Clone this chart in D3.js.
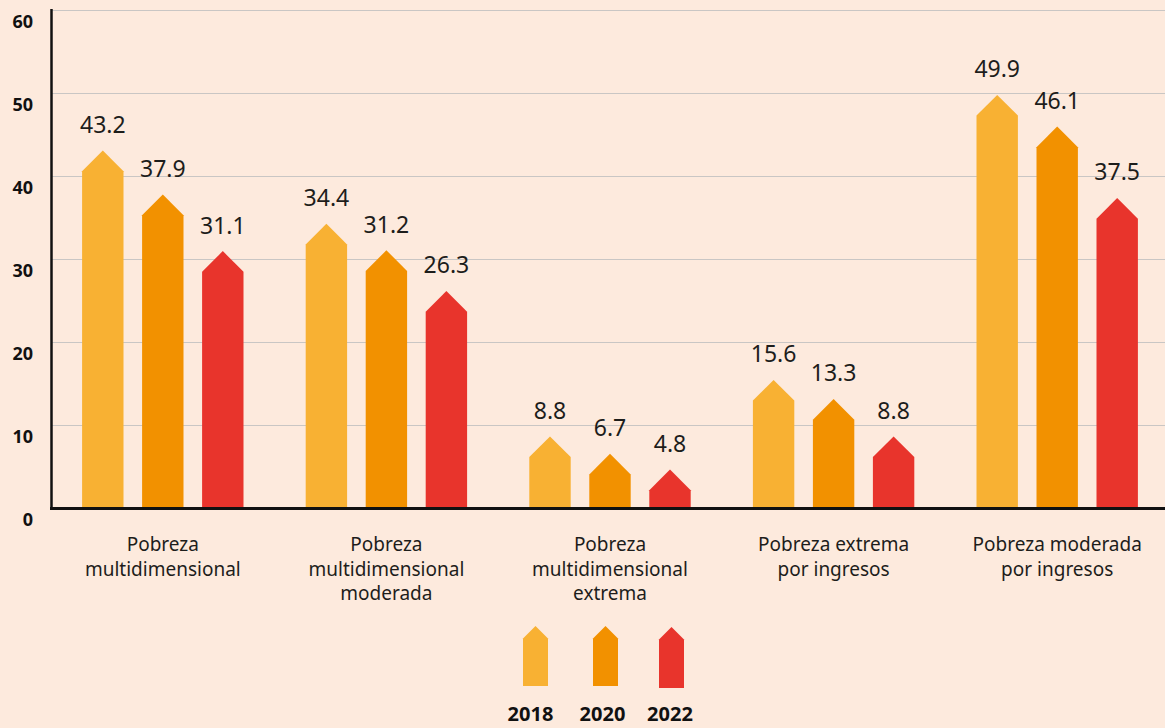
<!DOCTYPE html>
<html>
<head>
<meta charset="utf-8">
<script src="https://cdn.jsdelivr.net/npm/d3@7"></script>
<style>
  body { margin: 0; background: #fdeadd; }
  svg { display: block; font-family: "Noto Sans", sans-serif; }
</style>
</head>
<body>
<div id="chart"></div>
<script>
var width = 1165;
var height = 728;

var categories = [
    ["Pobreza", "multidimensional"],
    ["Pobreza", "multidimensional", "moderada"],
    ["Pobreza", "multidimensional", "extrema"],
    ["Pobreza extrema", "por ingresos"],
    ["Pobreza moderada", "por ingresos"]
];
var years = ["2018", "2020", "2022"];
var values2018 = [43.2, 34.4, 8.8, 15.6, 49.9];
var values2020 = [37.9, 31.2, 6.7, 13.3, 46.1];
var values2022 = [31.1, 26.3, 4.8, 8.8, 37.5];
var yTicks = [0, 10, 20, 30, 40, 50, 60];
var colors = ["#f8b133", "#f29100", "#e8342c"];

var series = [values2018, values2020, values2022];

var svg = d3.select("#chart")
    .append("svg")
    .attr("width", width)
    .attr("height", height);

svg.append("rect")
    .attr("width", width)
    .attr("height", height)
    .attr("fill", "#fdeadd");

var y = d3.scaleLinear().domain([0, 60]).range([508, 9.5]);

var x0 = d3.scaleBand()
    .domain(d3.range(categories.length))
    .range([51, 1169]);

var x1 = d3.scaleBand()
    .domain(years)
    .range([-90, 90])
    .paddingInner(0.31)
    .paddingOuter(0.155);

// gridlines
svg.append("g")
    .selectAll("line")
    .data(yTicks.filter(function(d){ return d > 0; }))
    .enter()
    .append("line")
    .attr("x1", 52)
    .attr("x2", width)
    .attr("y1", function(d){ return Math.round(y(d)) + 0.5; })
    .attr("y2", function(d){ return Math.round(y(d)) + 0.5; })
    .attr("stroke", "#c9c6c4")
    .attr("stroke-width", 1);

// tick labels (below their gridline)
svg.append("g")
    .selectAll("text")
    .data(yTicks)
    .enter()
    .append("text")
    .attr("x", 33)
    .attr("y", function(d){ return y(d) + 18; })
    .attr("text-anchor", "end")
    .attr("font-size", 18)
    .attr("font-weight", "bold")
    .attr("fill", "#111")
    .text(function(d){ return d; });

// arrow shaped bar
function arrowPath(cx, w, top, bottom){
    var h = w / 2;
    var shoulder = Math.min(top + h, bottom);
    return "M" + (cx - w/2) + "," + bottom +
           "L" + (cx - w/2) + "," + shoulder +
           "L" + cx + "," + top +
           "L" + (cx + w/2) + "," + shoulder +
           "L" + (cx + w/2) + "," + bottom + "Z";
}

var groups = svg.append("g")
    .selectAll("g")
    .data(categories)
    .enter()
    .append("g")
    .attr("transform", function(d, i){
        return "translate(" + (x0(i) + x0.bandwidth()/2) + ",0)";
    });

years.forEach(function(yr, s){
    groups.append("path")
        .attr("d", function(d, i){
            var cx = x1(yr) + x1.bandwidth()/2;
            return arrowPath(cx, x1.bandwidth(), y(series[s][i]) + 1.5, y(0));
        })
        .attr("fill", colors[s]);

    groups.append("text")
        .attr("x", x1(yr) + x1.bandwidth()/2)
        .attr("y", function(d, i){ return y(series[s][i]) - 16; })
        .attr("text-anchor", "middle")
        .attr("font-size", 23)
        .attr("fill", "#1d1d1b")
        .text(function(d, i){ return series[s][i].toFixed(1); });
});

// category labels
groups.append("text")
    .attr("text-anchor", "middle")
    .attr("font-size", 19)
    .attr("fill", "#1d1d1b")
    .selectAll("tspan")
    .data(function(d){ return d; })
    .enter()
    .append("tspan")
    .attr("x", 0)
    .attr("y", function(d, j){ return 551 + j * 24.5; })
    .text(function(d){ return d; });

// axes
svg.append("line")
    .attr("x1", 51.5).attr("x2", 51.5)
    .attr("y1", 9).attr("y2", 509)
    .attr("stroke", "#111")
    .attr("stroke-width", 2.5);

svg.append("line")
    .attr("x1", 50).attr("x2", width)
    .attr("y1", 508.5).attr("y2", 508.5)
    .attr("stroke", "#111")
    .attr("stroke-width", 2.8);

// legend
var legendX = [535.5, 605.5, 671.5];
var legendLabelX = [530.5, 602.5, 670];
var legend = svg.append("g");
years.forEach(function(yr, s){
    legend.append("path")
        .attr("d", arrowPath(legendX[s], 25, 626 + (s === 2 ? 1 : 0), 686 + (s === 2 ? 2 : 0)))
        .attr("fill", colors[s]);
    legend.append("text")
        .attr("x", legendLabelX[s])
        .attr("y", 721)
        .attr("text-anchor", "middle")
        .attr("font-size", 20)
        .attr("font-weight", "bold")
        .attr("fill", "#111")
        .text(yr);
});
</script>
</body>
</html>
